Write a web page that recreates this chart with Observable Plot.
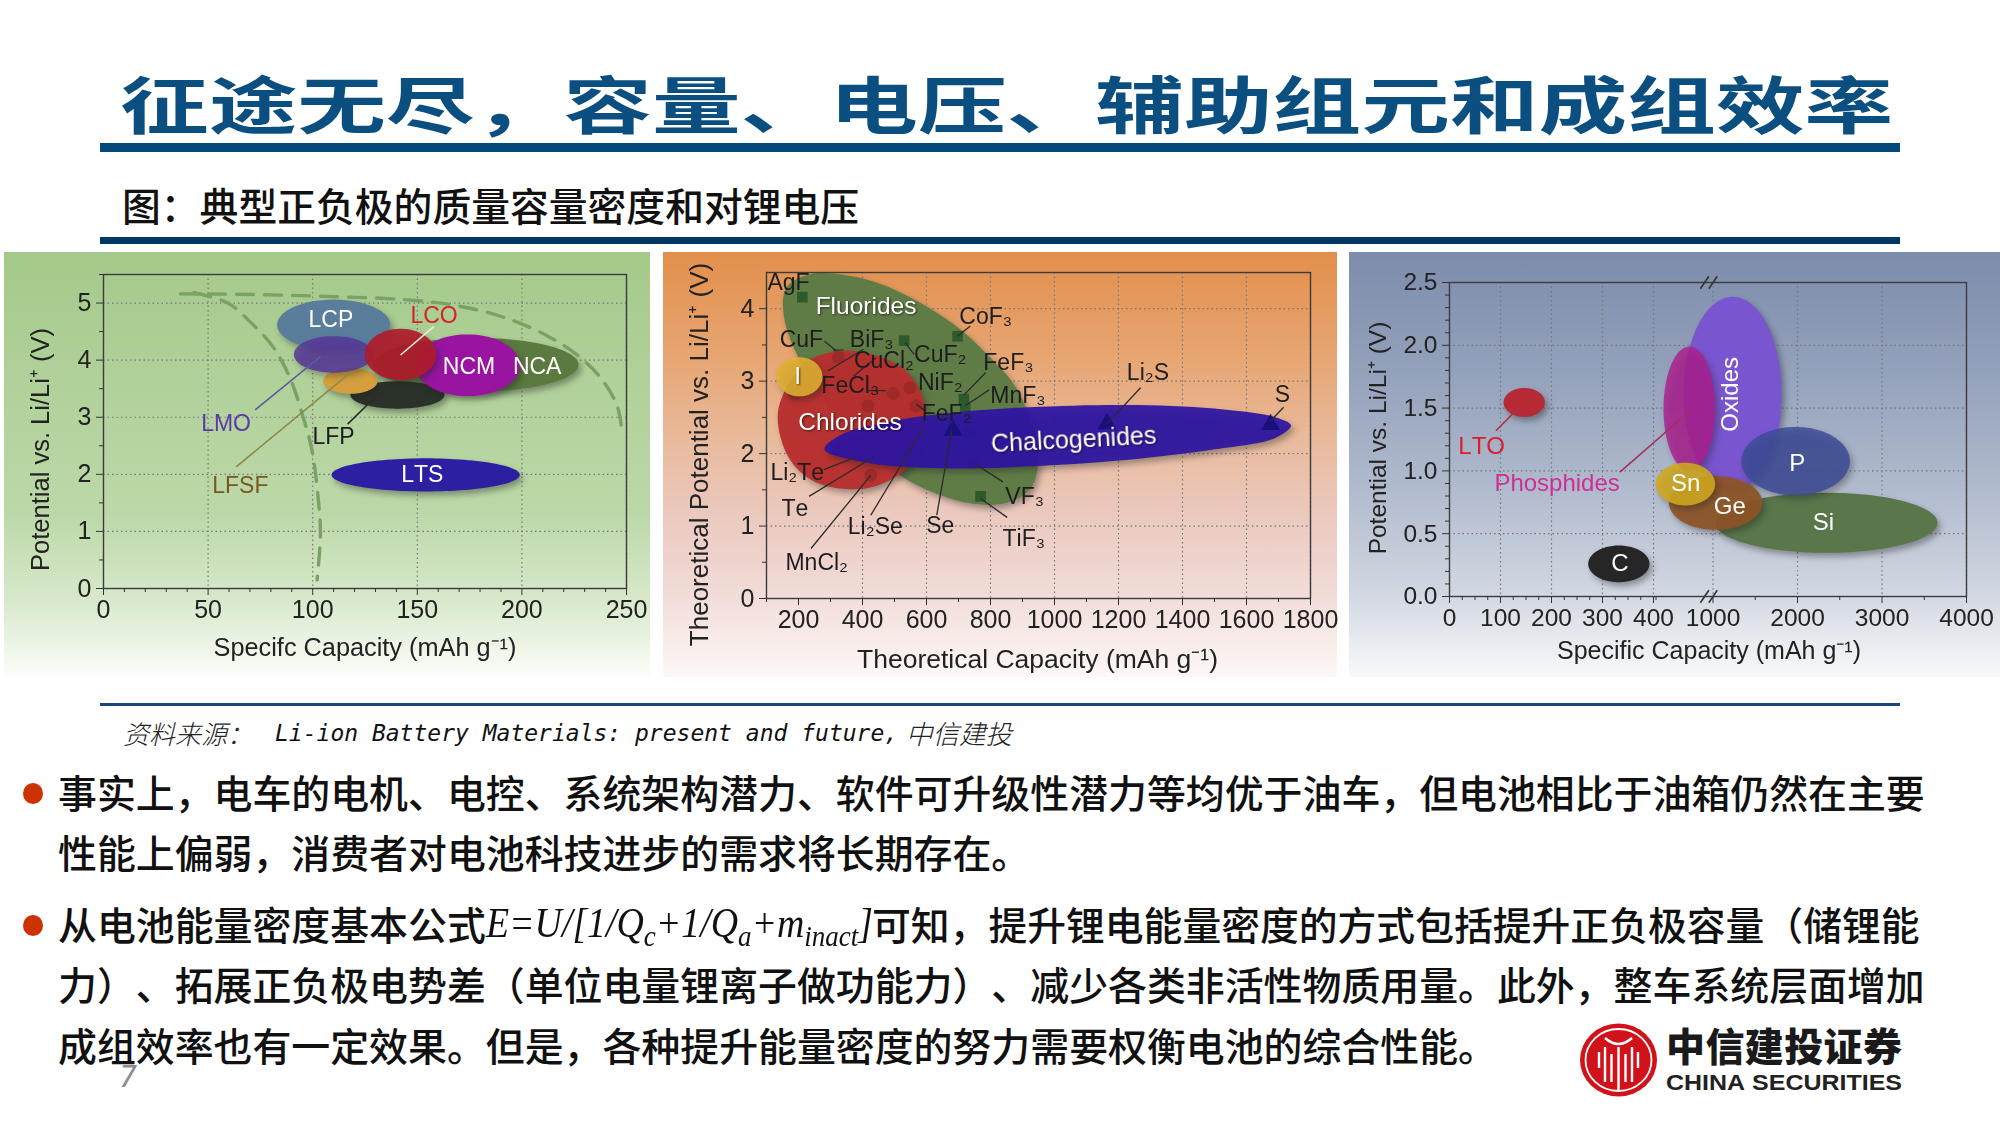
<!DOCTYPE html>
<html lang="zh">
<head>
<meta charset="utf-8">
<script src="https://cdn.jsdelivr.net/npm/d3@7"></script>
<script src="https://cdn.jsdelivr.net/npm/@observablehq/plot@0.6"></script>
<style>
html,body{margin:0;padding:0;background:#fff;}
#slide{position:relative;width:2000px;height:1125px;overflow:hidden;background:#fff;font-family:"Noto Sans CJK SC",sans-serif;text-spacing-trim:space-all;font-kerning:none;}
.abs{position:absolute;white-space:nowrap;}
.rule{position:absolute;left:100px;width:1800px;}
.panel{position:absolute;top:252px;height:425px;}
.panel svg{display:block;filter:blur(.45px);overflow:visible;}
.blob path{filter:drop-shadow(3px 4px 3px rgba(30,30,30,.4));}
.glow text{filter:drop-shadow(1px 1px 1px rgba(0,0,0,.6));}
.body{font-size:38.9px;font-weight:500;color:#111;line-height:50px;height:50px;left:58px;}
.bullet{position:absolute;left:23px;width:20px;height:21px;border-radius:50%;background:#cc3300;}
sub{font-size:30px;line-height:0;}
</style>
</head>
<body>
<div id="slide">
  <div class="abs" id="title" style="left:120px;top:62px;font-size:62px;line-height:80px;font-weight:700;color:#0a4f80;transform-origin:left top;transform:scaleX(1.43);">征途无尽，容量、电压、辅助组元和成组效率</div>
  <div class="rule" style="top:143px;height:9px;background:#04497b;"></div>
  <div class="abs" style="left:122px;top:178.5px;font-size:38.8px;line-height:50px;font-weight:500;color:#111;">图：典型正负极的质量容量密度和对锂电压</div>
  <div class="rule" style="top:237px;height:7px;background:#003764;"></div>

  <div class="panel" id="p1" style="left:4px;width:646px;background:linear-gradient(#a4ca8a 0%,#b2d29c 35%,#bcd8a8 62%,#d8e9cb 82%,#fbfdf9 100%);"></div>
  <div class="panel" id="p2" style="left:663px;width:674px;background:linear-gradient(#e28f4c 0%,#e7a673 25%,#e9bb9e 45%,#ebc9bf 62%,#f1dbd7 80%,#fdf8f6 100%);"></div>
  <div class="panel" id="p3" style="left:1349px;width:651px;background:linear-gradient(#7c8cab 0%,#94a1bb 28%,#b0bacd 55%,#d1d7e1 80%,#f8f9fa 100%);"></div>

  <div class="rule" style="top:703px;height:3px;background:#17477d;"></div>
  <div class="abs" style="left:123px;top:716px;font-size:26px;line-height:34px;font-weight:300;font-style:italic;color:#222;">资料来源：</div>
  <div class="abs" style="left:275px;top:716px;font-size:23px;line-height:34px;font-family:'DejaVu Sans Mono',monospace;font-style:italic;color:#111;">Li-ion Battery Materials: present and future,</div>
  <div class="abs" style="left:906px;top:716px;font-size:26.5px;line-height:34px;font-weight:300;font-style:italic;color:#222;">中信建投</div>

  <div class="bullet" style="top:783px;"></div>
  <div class="abs body" style="top:765.5px;">事实上，电车的电机、电控、系统架构潜力、软件可升级性潜力等均优于油车，但电池相比于油箱仍然在主要</div>
  <div class="abs body" style="top:825.5px;">性能上偏弱，消费者对电池科技进步的需求将长期存在。</div>
  <div class="bullet" style="top:915px;"></div>
  <div class="abs body" style="top:897.5px;">从电池能量密度基本公式</div>
  <div class="abs body" style="left:486px;top:897.5px;font-family:'Liberation Serif',serif;font-style:italic;font-weight:400;font-size:42px;transform-origin:left center;transform:scaleX(.9);">E=U/[1/Q<sub>c</sub>+1/Q<sub>a</sub>+m<sub>inact</sub>]</div>
  <div class="abs body" style="left:872px;top:897.5px;font-size:38.8px;">可知，提升锂电能量密度的方式包括提升正负极容量（储锂能</div>
  <div class="abs body" style="top:957.5px;">力）、拓展正负极电势差（单位电量锂离子做功能力）、减少各类非活性物质用量。此外，整车系统层面增加</div>
  <div class="abs body" style="top:1018.5px;">成组效率也有一定效果。但是，各种提升能量密度的努力需要权衡电池的综合性能。</div>
  <div class="abs" style="left:119px;top:1060px;font-size:30px;line-height:34px;color:#8c8c8c;font-family:'DejaVu Sans Mono',monospace;font-style:italic;">7</div>

  <svg class="abs" style="left:1575px;top:1020px;" width="335" height="85" viewBox="0 0 335 85">
    <ellipse cx="43.5" cy="40" rx="38.5" ry="36.5" fill="#d2121b"/>
    <ellipse cx="43.5" cy="40" rx="33" ry="31" fill="none" stroke="#fff" stroke-width="1.8"/>
    <path d="M30 18 Q43.5 30 57 18 M30 62 V27 M43.5 70 V27 M57 62 V27 M24 32 V48 M63 32 V48 M36.5 62 V34 M50.5 62 V34" fill="none" stroke="#fff" stroke-width="2.4"/>
    <text x="91" y="41" font-size="39" font-weight="900" fill="#1a1a1a" textLength="236" font-family="Noto Sans CJK SC">中信建投证券</text>
    <text x="91" y="70" font-size="21.5" font-weight="700" fill="#222" textLength="236" lengthAdjust="spacingAndGlyphs" font-family="Liberation Sans">CHINA SECURITIES</text>
  </svg>
</div>

<script>
const AXIS_FONT = "'Liberation Sans',Arial,sans-serif";

/* ---------- Panel 1: cathodes ---------- */
const cathodeXTicks = [0, 50, 100, 150, 200, 250];
const cathodeYTicks = [0, 1, 2, 3, 4, 5];
const cathodeXMinor = [10,20,30,40,60,70,80,90,110,120,130,140,160,170,180,190,210,220,230,240];
const cathodeYMinor = [0.5,1.5,2.5,3.5,4.5,5.5];
const cathodeNames = ["NCA","LFP","LFSF","LCP","LMO","NCM","LCO","LTS"];
const cathodeX0 = [129, 118, 105, 83, 91, 149, 125, 109];
const cathodeX1 = [227, 163, 131, 137, 129, 199, 159, 199];
const cathodeY0 = [3.45, 3.15, 3.41, 4.18, 3.78, 3.37, 3.65, 1.70];
const cathodeY1 = [4.39, 3.63, 3.86, 5.06, 4.42, 4.45, 4.55, 2.28];
const cathodeLabelNames = ["LCP","LCO","NCM","NCA","LMO","LFP","LFSF","LTS"];
const cathodeLabelX = [108.7, 158, 174.7, 207.3, 58.6, 110, 65.4, 152.4];
const cathodeLabelY = [4.71, 4.78, 3.89, 3.89, 2.89, 2.66, 1.80, 1.99];
const cathodeLeaderNames = ["LCO","LMO","LFSF","LFP"];
const cathodeLeaderX1 = [158, 72.5, 63.4, 116.7];
const cathodeLeaderY1 = [4.59, 3.13, 2.13, 2.88];
const cathodeLeaderX2 = [142, 103.7, 116.7, 129.8];
const cathodeLeaderY2 = [4.09, 4.06, 3.74, 3.35];
const limitUpperX = [36.8,71.5,111.7,143.9,168,192.2,212.4,227.5,238.5,245.6,247.8];
const limitUpperY = [5.16,5.15,5.11,5.06,4.96,4.74,4.42,4.06,3.65,3.19,2.75];
const limitLowerX = [43.3,59.4,71.5,81.5,89.6,94.6,99.6,102.7,103.7,102.1];
const limitLowerY = [5.18,5.0,4.62,4.21,3.65,3.10,2.43,1.55,0.96,0.15];

/* ---------- Panel 2: conversion cathodes ---------- */
const convXTicks = [200,400,600,800,1000,1200,1400,1600,1800];
const convYTicks = [0,1,2,3,4];
const convXMinor = [100,300,500,700,900,1100,1300,1500,1700];
const convYMinor = [0.5,1.5,2.5,3.5];
const fluoridesX = [155,162,230,338,446,582,704,798,880,934,947,920,839,744,636,528,379,216];
const fluoridesY = [3.88,4.29,4.47,4.47,4.36,4.08,3.72,3.33,2.91,2.32,1.81,1.49,1.31,1.31,1.44,1.67,2.18,3.19];
const chloridesX = [135,162,230,338,446,541,595,595,541,446,352,243,169];
const chloridesY = [2.50,2.91,3.28,3.42,3.35,3.12,2.68,2.22,1.81,1.56,1.51,1.63,1.95];
const chalcX = [281,338,473,649,920,1259,1529,1692,1739,1692,1502,1191,852,609,406];
const chalcY = [2.06,2.27,2.43,2.55,2.64,2.67,2.61,2.50,2.39,2.22,2.06,1.90,1.81,1.80,1.88];
const iodineExtent = [131, 275, 2.79, 3.33];
const fluorideSquaresX = [212,325,530,697,717,721,769,747,737,291];
const fluorideSquaresY = [4.16,3.37,3.56,3.62,2.75,2.64,1.41,1.87,2.28,3.12];
const chlorideDotsX = [426,496,417,568,548,325,189];
const chlorideDotsY = [1.70,2.83,2.66,2.66,2.91,3.33,2.82];
const chalcTrianglesX = [1164,1675,683];
const chalcTrianglesY = [2.41,2.40,2.32];
const convDarkNames = ["AgF","CoF₃","CuF","BiF₃","CuF₂","CuCl₂","FeF₃","NiF₂","FeCl₃","MnF₃","Li₂S","S","FeF₂","Li₂Te","Te","VF₃","TiF₃","Li₂Se","Se","MnCl₂"];
const convDarkX = [169,785,209,429,643,467,856,643,362,886,1292,1712,663,196,189,907,904,440,643,257];
const convDarkY = [4.36,3.89,3.58,3.58,3.36,3.28,3.26,2.98,2.94,2.80,3.12,2.81,2.55,1.74,1.24,1.40,0.82,0.99,1.01,0.49];
const convGroupNames = ["Fluorides","Chlorides","I"];
const convGroupX = [411,361,197];
const convGroupY = [4.04,2.43,3.07];
const convLeaderX1 = [281,403,442,561,737,785,796,473,595,1269,1716,839,852,632,426,239,233,279];
const convLeaderY1 = [3.55,3.44,3.32,3.37,3.76,3.12,2.88,2.87,2.59,2.91,2.64,1.61,1.12,1.15,1.15,0.69,1.41,1.78];
const convLeaderX2 = [318,291,372,534,697,717,721,419,568,1164,1675,747,769,679,588,426,433,379];
const convLeaderY2 = [3.42,3.14,3.07,3.53,3.62,2.81,2.66,2.87,2.68,2.41,2.45,1.87,1.38,2.32,2.34,1.70,1.95,1.95];

/* ---------- Panel 3: anodes (broken x axis) ---------- */
const anodeXDomain = [0,400,1000,4000];
const anodeXTicks = [0,100,200,300,400,1000,2000,3000,4000];
const anodeYTicks = [0,0.5,1,1.5,2,2.5];
const anodeXMinor = [25,50,75,125,150,175,225,250,275,325,350,375,425,1500,2500,3500];
const anodeYMinor = [0.1,0.2,0.3,0.4,0.6,0.7,0.8,0.9,1.1,1.2,1.3,1.4,1.6,1.7,1.8,1.9,2.1,2.2,2.3,2.4];
const anodeNames = ["Oxides","Phosphides","Si","Ge","Sn","P","LTO","C"];
const anodeX0 = [704,501,1025,556,421,1334,106,272];
const anodeX1 = [1812,1025,3656,1583,1025,2620,187,392];
const anodeY0 = [0.845,1.0,0.348,0.531,0.725,0.805,1.43,0.114];
const anodeY1 = [2.386,1.99,0.826,0.959,1.065,1.35,1.66,0.406];
const anodeLabelNames = ["LTO","Phosphides","P","Sn","Ge","Si","C"];
const anodeLabelX = [63,211,1997,725,1199,2306,334];
const anodeLabelY = [1.195,0.90,1.06,0.90,0.72,0.59,0.266];
const anodeRotatedLabel = ["Oxides"];
const anodeRotatedX = [1199];
const anodeRotatedY = [1.61];
const anodeLeaderX1 = [91,334];
const anodeLeaderY1 = [1.32,0.99];
const anodeLeaderX2 = [145,768];
const anodeLeaderY2 = [1.54,1.477];
const breakX1 = [873,958,873,958];
const breakX2 = [958,1050,958,1050];
const breakY1 = [2.45,2.45,-0.05,-0.05];
const breakY2 = [2.55,2.55,0.05,0.05];

/* ---------- styling kept apart from the data ---------- */
const cathodeColors = {NCA:["#5b7a40",1],LFP:["#2b3229",1],LFSF:["#d49f3c",1],LCP:["#5a7d9c",1],LMO:["#57379a",.85],NCM:["#9a14a2",1],LCO:["#b01c2c",.92],LTS:["#2d1fa2",1]};
const cathodeLabelColors = {LCP:"#fff",LCO:"#d8202c",NCM:"#fff",NCA:"#fff",LMO:"#5a3aa6",LFP:"#1c1c1c",LFSF:"#77591f",LTS:"#fff"};
const cathodeLeaderColors = {LCO:"#f2e6d8",LMO:"#5f5aa0",LFSF:"#8d8a48",LFP:"#2b2b2b"};
const anodeColors = {Oxides:["#7a55d0",1],Phosphides:["#ac1f90",.82],Si:["#59774a",1],Ge:["#8f5526",.92],Sn:["#d0a820",.88],P:["#3d4c98",.85],LTO:["#b52a35",1],C:["#262626",1]};
const anodeLabelColors = {LTO:"#d8202c",Phosphides:"#cf2f92",P:"#fff",Sn:"#fff",Ge:"#fff",Si:"#fff",C:"#fff"};

/* helpers: zip read values into records, outline of an ellipse from its read extent */
const pts = (xs, ys) => xs.map((x, i) => ({x, y: ys[i]}));
const segs = (x1, y1, x2, y2) => x1.map((v, i) => ({x1: v, y1: y1[i], x2: x2[i], y2: y2[i]}));
const ANGLES = d3.range(0, 2 * Math.PI, Math.PI / 60);
function ellipseOutline(x0, x1, y0, y1, toPos = d => d, fromPos = d => d) {
  const a = toPos(x0), b = toPos(x1), cx = (a + b) / 2, rx = (b - a) / 2, cy = (y0 + y1) / 2, ry = (y1 - y0) / 2;
  return ANGLES.map(t => ({x: fromPos(cx + rx * Math.cos(t)), y: cy + ry * Math.sin(t)}));
}
const noText = () => "";

function frameMarks(xTicks, yTicks, xMinor, yMinor, xLabel, yLabel, fs, yFormat, xt, yt) {
  const title = (s, size, dx, dy, rotate) => Plot.text([s], {text: d => d, frameAnchor: "middle", lineAnchor: "middle", fontSize: size, fontFamily: AXIS_FONT, fill: "#222", dx, dy, rotate});
  return {
    under: [
      Plot.ruleX(xTicks.slice(1), {stroke: "#777", strokeWidth: 1.2, strokeDasharray: "1.5 3"}),
      Plot.ruleY(yTicks.slice(1), {stroke: "#777", strokeWidth: 1.2, strokeDasharray: "1.5 3"})
    ],
    over: [
      Plot.frame({stroke: "#3c3c3c", strokeWidth: 1.4}),
      Plot.axisX(xMinor, {tickSize: 4, tickFormat: noText, label: null, stroke: "#333"}),
      Plot.axisY(yMinor, {tickSize: 4, tickFormat: noText, label: null, stroke: "#333"}),
      Plot.axisX(xTicks, {tickSize: 7, tickPadding: 5, fontSize: fs, label: null, stroke: "#333", fill: "#222", tickFormat: d3.format("d")}),
      Plot.axisY(yTicks, {tickSize: 7, tickPadding: 5, fontSize: fs, label: null, stroke: "#333", fill: "#222", tickFormat: yFormat}),
      title(xLabel, xt[0], xt[1], xt[2], 0),
      title(yLabel, yt[0], yt[1], yt[2], -90)
    ]
  };
}
const textMark = (xs, ys, names, opts) => Plot.text(names.map((n, i) => ({n, x: xs[i], y: ys[i]})), {x: "x", y: "y", text: "n", fontSize: 23, fontFamily: AXIS_FONT, ...opts});
const base = {style: {background: "transparent", fontFamily: AXIS_FONT, overflow: "visible"}};

/* Panel 1 */
{
  const f = frameMarks(cathodeXTicks, cathodeYTicks, cathodeXMinor, cathodeYMinor, "Specifc Capacity (mAh g⁻¹)", "Potential vs. Li/Li⁺ (V)", 25, d3.format("d"), [25.3, 0, 216], [25.5, -324.5, 18]);
  const order = ["NCA","LFP","LFSF","LCP","LMO","NCM","LCO","LTS"];
  const blobs = order.map(n => {
    const i = cathodeNames.indexOf(n);
    return Plot.line(ellipseOutline(cathodeX0[i], cathodeX1[i], cathodeY0[i], cathodeY1[i]), {x: "x", y: "y", curve: "linear-closed", fill: cathodeColors[n][0], fillOpacity: cathodeColors[n][1], stroke: "none", className: "blob"});
  });
  const dashed = {x: "x", y: "y", curve: "catmull-rom", stroke: "#7ba266", strokeWidth: 3.4, strokeDasharray: "17 11"};
  const plot = Plot.plot({
    ...base, width: 646, height: 425, marginLeft: 99, marginRight: 24, marginTop: 22, marginBottom: 89,
    x: {domain: [0, 250]}, y: {domain: [0, 5.5]},
    marks: [
      ...f.under,
      Plot.line(pts(limitUpperX, limitUpperY), dashed),
      Plot.line(pts(limitLowerX, limitLowerY), dashed),
      ...blobs,
      ...f.over,
      Plot.link(segs(cathodeLeaderX1, cathodeLeaderY1, cathodeLeaderX2, cathodeLeaderY2).map((d, i) => ({...d, c: cathodeLeaderColors[cathodeLeaderNames[i]]})), {x1: "x1", y1: "y1", x2: "x2", y2: "y2", stroke: d => d.c, strokeWidth: 1.6}),
      textMark(cathodeLabelX, cathodeLabelY, cathodeLabelNames, {fill: d => cathodeLabelColors[d.n]})
    ]
  });
  document.getElementById("p1").append(plot);
}

/* Panel 2 */
{
  const f = frameMarks(convXTicks, convYTicks, convXMinor, convYMinor, "Theoretical Capacity (mAh g⁻¹)", "Theoretical Potential vs. Li/Li⁺ (V)", 25, d3.format("d"), [26.5, -1, 224.5], [26, -339, 19]);
  const blob = (data, color, op, curve = "catmull-rom-closed") => Plot.line(data, {x: "x", y: "y", curve, fill: color, fillOpacity: op, stroke: "none", className: "blob"});
  const plot = Plot.plot({
    ...base, width: 674, height: 425, marginLeft: 103, marginRight: 27, marginTop: 20, marginBottom: 79,
    x: {domain: [100, 1800]}, y: {domain: [0, 4.5]},
    marks: [
      ...f.under,
      blob(pts(fluoridesX, fluoridesY), "#607c46", 1),
      Plot.dot(pts(fluorideSquaresX, fluorideSquaresY), {x: "x", y: "y", symbol: "square", r: 6, fill: "#2f5a2c"}),
      blob(pts(chloridesX, chloridesY), "#b8302e", .97),
      Plot.dot(pts(chlorideDotsX, chlorideDotsY), {x: "x", y: "y", r: 6.5, fill: "#9a2a28", fillOpacity: .9}),
      blob(ellipseOutline(...iodineExtent), "#dfb030", .88, "linear-closed"),
      blob(pts(chalcX, chalcY), "#2e14a2", .93),
      Plot.dot(pts(chalcTrianglesX, chalcTrianglesY), {x: "x", y: "y", symbol: "triangle", r: 7, fill: "#19107c"}),
      ...f.over,
      Plot.link(segs(convLeaderX1, convLeaderY1, convLeaderX2, convLeaderY2), {x1: "x1", y1: "y1", x2: "x2", y2: "y2", stroke: "#2b2b2b", strokeWidth: 1.3}),
      textMark(convDarkX, convDarkY, convDarkNames, {fill: "#1d1d1d"}),
      textMark(convGroupX, convGroupY, convGroupNames, {fill: "#fff", fontSize: 24.5, className: "glow"}),
      textMark([1060], [2.19], ["Chalcogenides"], {fill: "#fff", fontSize: 25, rotate: -3, className: "glow"})
    ]
  });
  document.getElementById("p2").append(plot);
}

/* Panel 3 */
{
  const xRange = [100, 304, 363.5, 617];
  const pos = d3.scaleLinear().domain(anodeXDomain).range(xRange);
  const f = frameMarks(anodeXTicks, anodeYTicks, anodeXMinor, anodeYMinor, "Specific Capacity (mAh g⁻¹)", "Potential vs. Li/Li⁺ (V)", 24.5, d3.format(".1f"), [25, 1, 211.5], [24.5, -330, -1.5]);
  const order = ["Oxides","Phosphides","Si","Ge","Sn","P","LTO","C"];
  const blobs = order.map(n => {
    const i = anodeNames.indexOf(n);
    return Plot.line(ellipseOutline(anodeX0[i], anodeX1[i], anodeY0[i], anodeY1[i], pos, pos.invert), {x: "x", y: "y", curve: "linear-closed", fill: anodeColors[n][0], fillOpacity: anodeColors[n][1], stroke: "none", className: "blob"});
  });
  const plot = Plot.plot({
    ...base, width: 651, height: 425, marginLeft: 100, marginRight: 34, marginTop: 30, marginBottom: 81,
    x: {type: "linear", domain: anodeXDomain, range: xRange}, y: {domain: [0, 2.5]},
    marks: [
      ...f.under,
      ...blobs,
      ...f.over,
      Plot.link(segs(breakX1, breakY1, breakX2, breakY2), {x1: "x1", y1: "y1", x2: "x2", y2: "y2", stroke: "#333", strokeWidth: 1.6}),
      Plot.link(segs(anodeLeaderX1, anodeLeaderY1, anodeLeaderX2, anodeLeaderY2).map((d, i) => ({...d, c: ["#b03040", "#a03060"][i]})), {x1: "x1", y1: "y1", x2: "x2", y2: "y2", stroke: d => d.c, strokeWidth: 1.6}),
      textMark(anodeLabelX, anodeLabelY, anodeLabelNames, {fill: d => anodeLabelColors[d.n], fontSize: 24}),
      textMark(anodeRotatedX, anodeRotatedY, anodeRotatedLabel, {fill: "#fff", fontSize: 24, rotate: -90})
    ]
  });
  document.getElementById("p3").append(plot);
}
</script>
</body>
</html>
